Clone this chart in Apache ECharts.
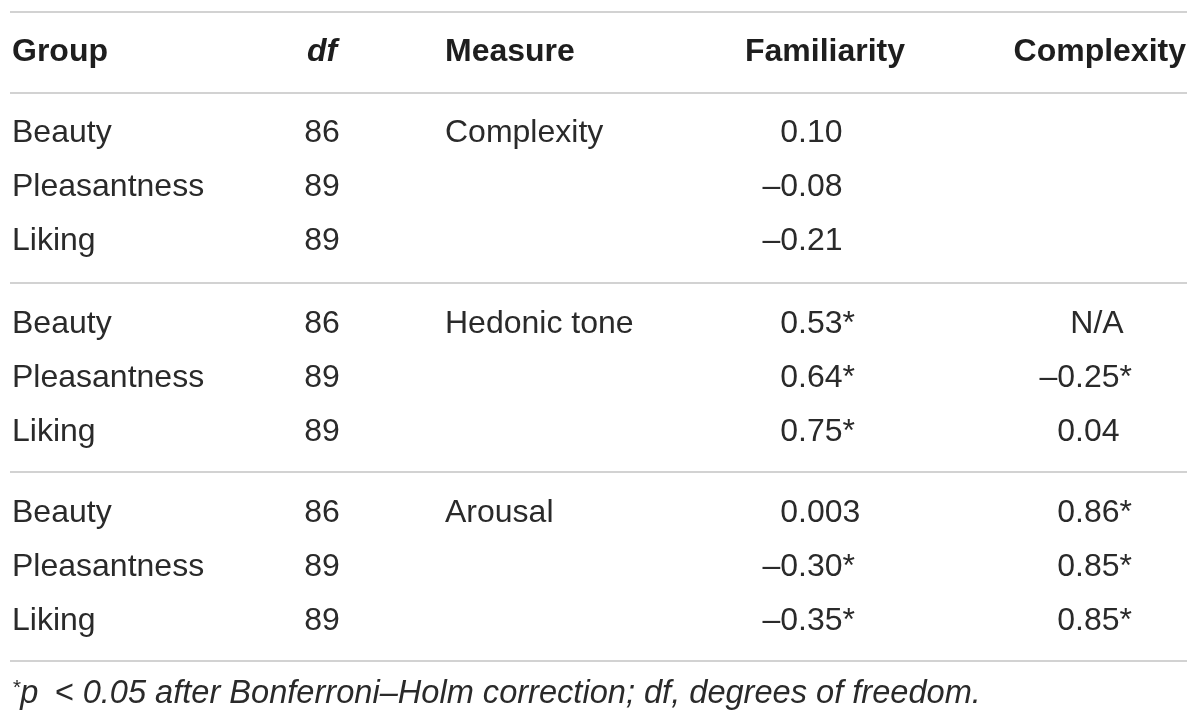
<!DOCTYPE html>
<html>
<head>
<meta charset="utf-8">
<script src="https://cdn.jsdelivr.net/npm/echarts@6/dist/echarts.min.js"></script>
<style>html,body{margin:0;padding:0;background:#fff}#c{width:1200px;height:725px}</style>
</head>
<body>
<div id="c"></div>
<script>
// ---- data ----
const headers = ['Group', 'df', 'Measure', 'Familiarity', 'Complexity'];
const groups = ['Beauty', 'Pleasantness', 'Liking'];
const dfs = [86, 89, 89];
const measures = ['Complexity', 'Hedonic tone', 'Arousal'];
const familiarity = ['0.10', '–0.08', '–0.21', '0.53*', '0.64*', '0.75*', '0.003', '–0.30*', '–0.35*'];
const complexity = ['', '', '', 'N/A', '–0.25*', '0.04', '0.86*', '0.85*', '0.85*'];
const footnote = 'p\u2002< 0.05 after Bonferroni–Holm correction; df, degrees of freedom.';

// ---- layout (positions in page pixels, mapped through hidden value axes) ----
const L = {
  colX: [12, 322, 445, 798, 1075],
  headerRight: [null, null, null, 905, 1186],
  headerY: 52,
  rowY: [133, 187, 241, 324, 378, 432, 513, 567, 621],
  footY: 694,
  rules: [12, 93, 283, 472, 661],
  ruleX: [10, 1187],
  naOffset: 22
};
const FONT = "'Liberation Sans', Arial, Helvetica, sans-serif";
const INK = '#2a2a2a';
const HEAD_INK = '#1e1e1e';
const FS = 32;

// build cell list
const cells = [];
headers.forEach((h, i) => {
  const x = L.headerRight[i] != null ? L.headerRight[i] : L.colX[i];
  cells.push({ kind: 'text', x, y: L.headerY, text: h, align: L.headerRight[i] != null ? 'right' : (i === 1 ? 'center' : 'left'), bold: true, italic: i === 1 });
});
for (let r = 0; r < 9; r++) {
  const y = L.rowY[r];
  cells.push({ kind: 'text', x: L.colX[0], y, text: groups[r % 3], align: 'left' });
  cells.push({ kind: 'text', x: L.colX[1], y, text: String(dfs[r % 3]), align: 'center' });
  if (r % 3 === 0) cells.push({ kind: 'text', x: L.colX[2], y, text: measures[r / 3], align: 'left' });
  cells.push({ kind: 'num', x: L.colX[3], y, text: familiarity[r] });
  if (complexity[r]) cells.push({ kind: 'num', x: L.colX[4], y, text: complexity[r] });
}
cells.push({ kind: 'foot', x: L.colX[0], y: L.footY, text: footnote });

function baseStyle(c) {
  return {
    fill: c.bold ? HEAD_INK : INK,
    fontFamily: FONT,
    fontSize: FS,
    fontWeight: c.bold ? 'bold' : 'normal',
    fontStyle: c.italic ? 'italic' : 'normal',
    verticalAlign: 'middle'
  };
}

function renderCell(params, api) {
  const c = cells[params.dataIndex];
  const p = api.coord([api.value(0), api.value(1)]);
  if (c.kind === 'text') {
    return { type: 'text', x: p[0], y: p[1], style: Object.assign(baseStyle(c), { text: c.text, align: c.align }) };
  }
  if (c.kind === 'num') {
    const k = c.text.indexOf('.');
    if (k < 0) {
      return { type: 'text', x: p[0] + L.naOffset, y: p[1], style: Object.assign(baseStyle(c), { text: c.text, align: 'center' }) };
    }
    return {
      type: 'group',
      children: [
        { type: 'text', x: p[0], y: p[1], style: Object.assign(baseStyle(c), { text: c.text.slice(0, k), align: 'right' }) },
        { type: 'text', x: p[0], y: p[1], style: Object.assign(baseStyle(c), { text: c.text.slice(k), align: 'left' }) }
      ]
    };
  }
  // footnote
  return {
    type: 'text', x: p[0], y: p[1],
    style: {
      text: '{s|*}{t|' + c.text + '}',
      fontFamily: FONT, verticalAlign: 'middle', align: 'left',
      rich: {
        s: { fontFamily: FONT, fontSize: 21, fontStyle: 'italic', fill: INK, verticalAlign: 'top', padding: [0, 0, 12, 0] },
        t: { fontFamily: FONT, fontSize: 32.6, fontStyle: 'italic', fill: INK }
      }
    }
  };
}

function renderRule(params, api) {
  const a = api.coord([L.ruleX[0], api.value(0)]);
  const b = api.coord([L.ruleX[1], api.value(0)]);
  return { type: 'line', shape: { x1: a[0], y1: a[1], x2: b[0], y2: b[1] }, style: { stroke: '#d2d2d2', lineWidth: 2 } };
}

const chart = echarts.init(document.getElementById('c'), null, { renderer: 'canvas' });
chart.setOption({
  animation: false,
  backgroundColor: '#fff',
  grid: { left: 0, right: 0, top: 0, bottom: 0 },
  xAxis: { type: 'value', min: 0, max: 1200, show: false },
  yAxis: { type: 'value', min: 0, max: 725, inverse: true, show: false },
  series: [
    { type: 'custom', renderItem: renderRule, data: L.rules.map(y => [y]), encode: { y: 0 }, silent: true },
    { type: 'custom', renderItem: renderCell, data: cells.map(c => [c.x, c.y]), silent: true }
  ]
});
</script>
</body>
</html>
